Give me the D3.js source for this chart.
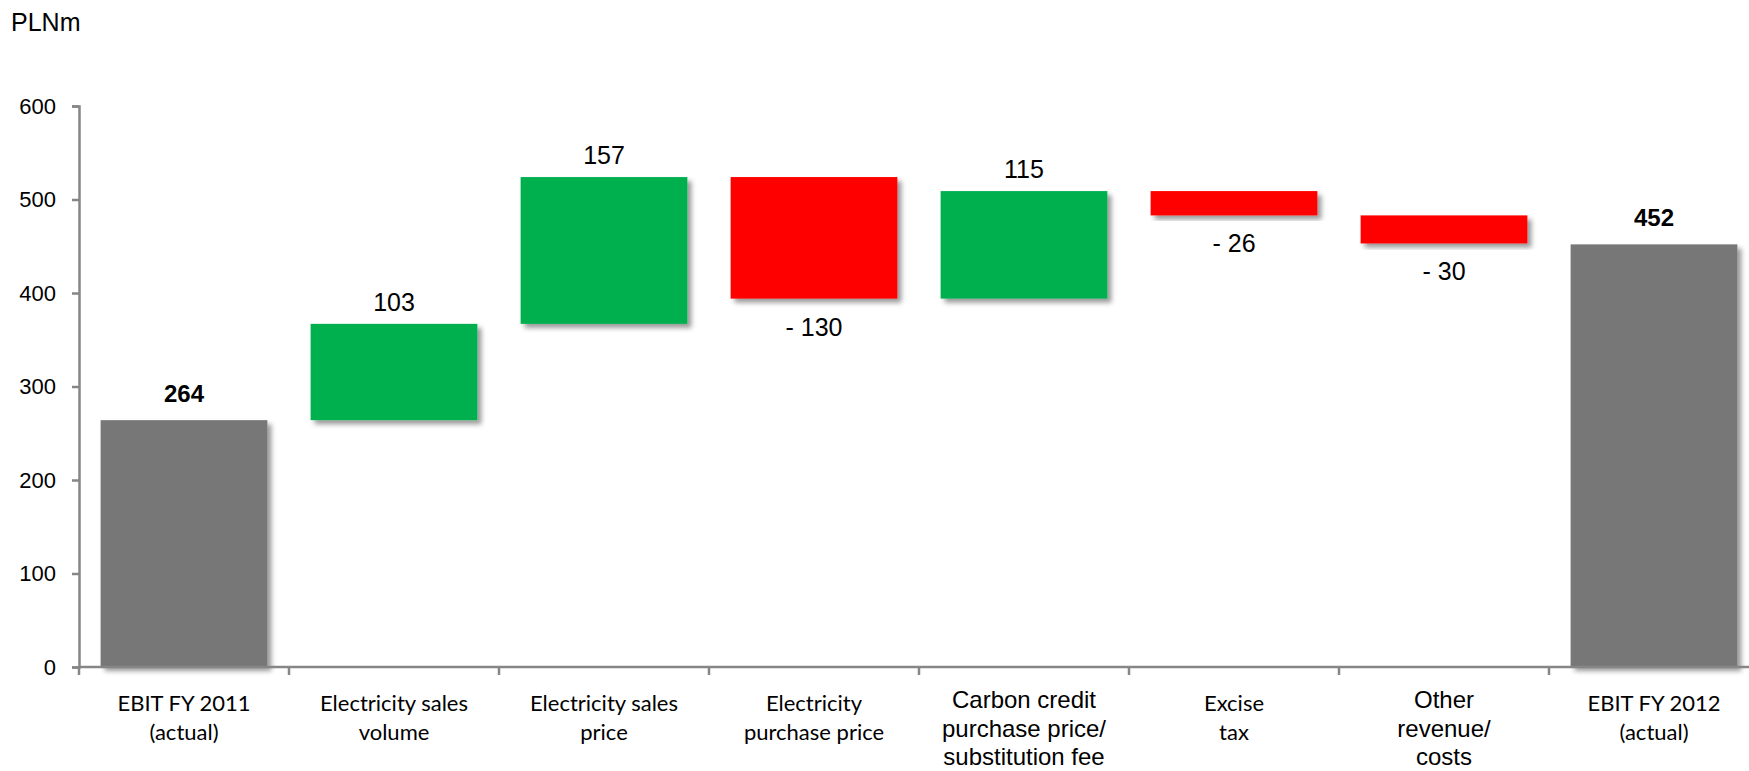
<!DOCTYPE html>
<html>
<head>
<meta charset="utf-8">
<script src="https://cdn.jsdelivr.net/npm/d3@7"></script>
<style>
  html, body { margin: 0; padding: 0; background: #fff; }
  svg { display: block; }
</style>
</head>
<body>
<svg id="chart" width="1749" height="771"></svg>
<script>
// EBIT bridge FY 2011 -> FY 2012, PLNm
const categories = [
  ["EBIT FY 2011", "(actual)"],
  ["Electricity sales", "volume"],
  ["Electricity sales", "price"],
  ["Electricity", "purchase price"],
  ["Carbon credit", "purchase price/", "substitution fee"],
  ["Excise", "tax"],
  ["Other", "revenue/", "costs"],
  ["EBIT FY 2012", "(actual)"]
];
const values = [264, 103, 157, -130, 115, -26, -30, 452];
const kinds = ["total", "delta", "delta", "delta", "delta", "delta", "delta", "total"];
const valueLabels = ["264", "103", "157", "- 130", "115", "- 26", "- 30", "452"];
const yTicks = [0, 100, 200, 300, 400, 500, 600];
const unitLabel = "PLNm";

// running totals for the waterfall segments
let running = 0;
const bars = values.map((v, i) => {
  let y0, y1;
  if (kinds[i] === "total") { y0 = 0; y1 = v; running = v; }
  else { y0 = running; y1 = running + v; running = y1; }
  return { i, v, kind: kinds[i], lo: Math.min(y0, y1), hi: Math.max(y0, y1), label: valueLabels[i] };
});

const svg = d3.select("#chart");
const colors = { total: "#777777", up: "#00B050", down: "#FF0000" };
const axisColor = "#868686";
const arialFont = "'Liberation Sans', Arial, sans-serif";
const calibriFont = "Lato, 'Open Sans', sans-serif";
const arialCats = new Set([4, 6]);

const x = d3.scaleBand()
  .domain(categories.map((d, i) => i))
  .range([79, 1759])
  .paddingInner(0.206)
  .paddingOuter(0.103);

const y = d3.scaleLinear().domain([0, 600]).range([667, 106]);

// soft drop shadow under bars
const defs = svg.append("defs");
const f = defs.append("filter").attr("id", "shadow")
  .attr("x", "-10%").attr("y", "-10%").attr("width", "130%").attr("height", "130%");
f.append("feDropShadow").attr("dx", 4).attr("dy", 4).attr("stdDeviation", 2.5)
  .attr("flood-color", "#000").attr("flood-opacity", 0.4);

// unit label
svg.append("text").attr("x", 11).attr("y", 31)
  .style("font-family", arialFont).style("font-size", "25px").attr("fill", "#000")
  .text(unitLabel);

// bars
svg.append("g").selectAll("rect").data(bars).join("rect")
  .attr("x", d => x(d.i))
  .attr("width", x.bandwidth())
  .attr("y", d => y(d.hi))
  .attr("height", d => y(d.lo) - y(d.hi))
  .attr("fill", d => d.kind === "total" ? colors.total : (d.v >= 0 ? colors.up : colors.down))
  .attr("filter", "url(#shadow)");

// y axis
const yAxis = d3.axisLeft(y).tickValues(yTicks).tickSizeOuter(0).tickSize(7).tickPadding(16);
const gy = svg.append("g").attr("transform", "translate(79,0)").call(yAxis);
gy.select(".domain").attr("stroke", axisColor).attr("stroke-width", 2.5);
gy.selectAll(".tick line").attr("stroke", axisColor).attr("stroke-width", 2.5);
gy.selectAll(".tick text").style("font-family", arialFont).style("font-size", "22px").attr("fill", "#000");

// x axis with ticks at category boundaries
const step = x.step();
const gap = step * x.paddingInner();
const bounds = categories.map((d, i) => x(i) - gap / 2);
bounds.push(x(categories.length - 1) + x.bandwidth() + gap / 2);
const gx = svg.append("g");
gx.append("line").attr("x1", x.range()[0]).attr("x2", x.range()[1])
  .attr("y1", y(0)).attr("y2", y(0)).attr("stroke", axisColor).attr("stroke-width", 2.5);
gx.selectAll("line.tick").data(bounds).join("line").attr("class", "tick")
  .attr("x1", d => d).attr("x2", d => d)
  .attr("y1", y(0)).attr("y2", y(0) + 8)
  .attr("stroke", axisColor).attr("stroke-width", 2.5);

// category labels
const cl = svg.append("g").selectAll("text").data(categories).join("text")
  .attr("text-anchor", "middle")
  .attr("fill", "#000")
  .style("font-family", (d, i) => arialCats.has(i) ? arialFont : calibriFont)
  .style("font-size", (d, i) => arialCats.has(i) ? "24px" : "22px")
  .attr("transform", (d, i) => `translate(${x(i) + x.bandwidth() / 2},${arialCats.has(i) ? 708 : 711})`);
cl.selectAll("tspan").data(d => d).join("tspan")
  .attr("x", 0).attr("y", (d, j) => j * 28.5)
  .text(d => d);

// value labels
svg.append("g").selectAll("text").data(bars).join("text")
  .attr("text-anchor", "middle")
  .attr("x", d => x(d.i) + x.bandwidth() / 2)
  .attr("y", d => {
    if (d.kind === "total") return y(d.hi) - 18;
    if (d.v >= 0) return y(d.hi) - 13;
    return y(d.lo) + 37;
  })
  .style("font-family", arialFont)
  .style("font-size", d => d.kind === "total" ? "24px" : "25px")
  .style("font-weight", d => d.kind === "total" ? "bold" : "normal")
  .attr("fill", "#000")
  .text(d => d.label);
</script>
</body>
</html>
